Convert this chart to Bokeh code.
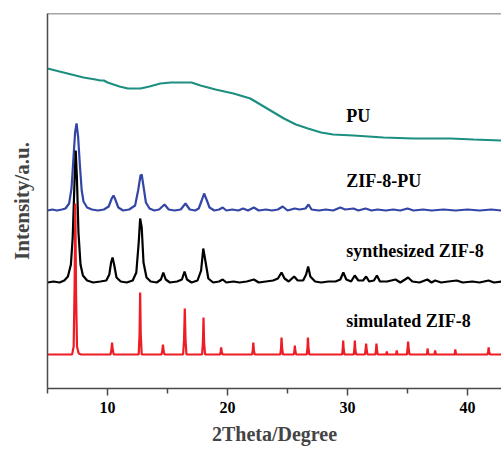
from bokeh.plotting import figure
from bokeh.models import Range1d, FixedTicker, Span, ColumnDataSource
from bokeh.core.properties import value
from bokeh.embed import file_html
from bokeh.resources import INLINE

# ---------------- data ----------------
# PU (teal) absolute values in arbitrary intensity units
PU_X = [5.0, 6.0, 7.0, 8.0, 9.0, 9.4, 9.7, 10.0, 11.0, 11.7, 12.3, 12.75, 13.5, 14.4,
        15.3, 16.3, 17.0, 17.75, 19.0, 20.5, 21.9, 23.3, 24.7, 25.7, 26.7, 27.8,
        28.8, 30.5, 33.0, 35.5, 38.6, 40.5, 42.8]
PU_Y = [320, 317, 314, 311, 309, 308, 308, 306, 302, 300, 300, 300, 302, 305,
        306, 306, 306, 303, 299, 295, 290, 280, 270, 264, 260, 256,
        254, 253, 251, 250, 250, 249, 248]

# ZIF-8-PU (blue) relative to its baseline
ZPU_OFFSET = 178
ZPU_X = [5.0, 5.4, 5.8, 6.2, 6.5, 6.8, 7.0, 7.15, 7.3, 7.42, 7.55, 7.7, 7.85, 8.0, 8.3, 8.7,
         9.2, 9.7, 10.1, 10.35, 10.5, 10.65, 10.9, 11.3, 11.8, 12.3, 12.55, 12.75, 12.85,
         13.0, 13.2, 13.5, 13.9, 14.3, 14.75, 15.1, 15.6, 16.1, 16.5, 16.85, 17.3, 17.6,
         17.85, 18.05, 18.25, 18.5, 18.9, 19.3, 19.6, 19.9, 20.4, 20.9, 21.3, 21.7, 22.2,
         22.6, 23.2, 23.7, 24.2, 24.6, 25.0, 25.6, 26.0, 26.5, 26.75, 27.0, 27.6, 28.2,
         28.8, 29.4, 29.8, 30.5, 30.9, 31.5, 32.0, 32.5, 33.2, 33.8, 34.4, 35.0, 35.5,
         36.3, 37.0, 38.0, 39.0, 40.0, 41.0, 42.0, 42.8]
ZPU_Y = [0, 1, 0, 1, 2, 7, 22, 50, 78, 87, 74, 45, 20, 9, 3, 1,
         0, 1, 4, 12, 15, 11, 3, 0, 1, 5, 20, 35, 36,
         24, 8, 2, 0, 1, 6, 1, 0, 1, 7, 1, 0, 2,
         10, 17, 11, 3, 0, 1, 3, 0, 1, 0, 2, 0, 3,
         0, 1, 0, 1, 4, 0, 2, 1, 2, 6, 1, 0, 1,
         0, 3, 1, 2, 0, 2, 0, 1, 0, 1, 0, 2, 0,
         1, 0, 1, 0, 1, 0, 1, 0]

# synthesized ZIF-8 (black) relative to its baseline
SYN_OFFSET = 106
SYN_X = [5.0, 5.5, 6.0, 6.4, 6.7, 6.95, 7.1, 7.25, 7.35, 7.45, 7.58, 7.75, 7.95, 8.3, 8.8,
         9.4, 9.9, 10.15, 10.3, 10.42, 10.55, 10.75, 11.1, 11.6, 12.1, 12.4, 12.6, 12.72,
         12.85, 13.0, 13.25, 13.6, 14.1, 14.45, 14.65, 14.85, 15.2, 15.8, 16.2, 16.42,
         16.62, 17.0, 17.5, 17.8, 17.98, 18.15, 18.4, 18.8, 19.3, 19.6, 19.9, 20.5, 21.0,
         21.6, 22.2, 22.6, 23.2, 23.8, 24.2, 24.5, 24.75, 25.1, 25.55, 25.85, 26.3, 26.55,
         26.72, 26.9, 27.3, 27.8, 28.4, 29.0, 29.4, 29.65, 29.9, 30.3, 30.6, 30.9, 31.3,
         31.55, 31.8, 32.2, 32.45, 32.7, 33.3, 34.0, 34.4, 35.05, 35.4, 36.0, 36.65, 37.0,
         37.3, 37.8, 38.4, 39.1, 39.6, 40.4, 41.0, 41.75, 42.2, 42.8]
SYN_Y = [0, 1, 0, 2, 6, 18, 45, 100, 132, 105, 50, 18, 7, 2, 0,
         1, 2, 8, 20, 25, 18, 5, 1, 0, 2, 10, 40, 64,
         55, 20, 5, 1, 0, 3, 10, 3, 0, 1, 3, 11,
         3, 0, 2, 12, 34, 22, 4, 0, 1, 3, 0, 1, 0,
         1, 3, 0, 1, 2, 4, 10, 4, 1, 6, 2, 2, 8,
         16, 6, 1, 0, 1, 1, 3, 10, 3, 1, 7, 2, 2,
         6, 1, 2, 7, 1, 1, 3, 0, 5, 1, 0, 3, 0,
         2, 0, 1, 2, 0, 1, 0, 2, 0, 1]

# simulated ZIF-8 (red) relative to its baseline
SIM_OFFSET = 34
SIM_X = [5.0, 7.05, 7.18, 7.26, 7.32, 7.38, 7.46, 7.6, 7.8,
         10.25, 10.33, 10.38, 10.43, 10.52,
         12.6, 12.67, 12.72, 12.77, 12.85,
         14.5, 14.57, 14.62, 14.67, 14.75,
         16.3, 16.38, 16.44, 16.5, 16.58,
         17.88, 17.95, 18.0, 18.05, 18.13,
         19.38, 19.43, 19.47, 19.52, 19.58,
         22.05, 22.1, 22.15, 22.2, 22.27,
         24.4, 24.46, 24.5, 24.55, 24.62,
         25.52, 25.57, 25.61, 25.66, 25.72,
         26.6, 26.66, 26.7, 26.75, 26.82,
         29.55, 29.6, 29.64, 29.68, 29.75,
         30.52, 30.57, 30.61, 30.65, 30.72,
         31.45, 31.5, 31.55, 31.6, 31.67,
         32.32, 32.37, 32.41, 32.46, 32.52,
         33.22, 33.27, 33.33,
         34.05, 34.1, 34.16,
         34.95, 35.0, 35.05, 35.1, 35.17,
         36.62, 36.67, 36.73,
         37.25, 37.3, 37.36,
         38.93, 38.98, 39.04,
         41.67, 41.72, 41.76, 41.8, 41.87,
         42.8]
SIM_Y = [0, 0, 8, 70, 151, 60, 8, 1, 0,
         0, 5, 12, 5, 0,
         0, 20, 62, 20, 0,
         0, 4, 10, 4, 0,
         0, 15, 46, 15, 0,
         0, 12, 37, 12, 0,
         0, 3, 7, 3, 0,
         0, 4, 12, 4, 0,
         0, 6, 17, 6, 0,
         0, 3, 9, 3, 0,
         0, 6, 17, 6, 0,
         0, 5, 14, 5, 0,
         0, 5, 14, 5, 0,
         0, 4, 11, 4, 0,
         0, 4, 11, 4, 0,
         0, 3, 0,
         0, 4, 0,
         0, 5, 13, 5, 0,
         0, 6, 0,
         0, 4, 0,
         0, 5, 0,
         0, 3, 7, 3, 0,
         0]

LABELS = ["PU", "ZIF-8-PU", "synthesized ZIF-8", "simulated ZIF-8"]
LABEL_X = [29.9, 29.9, 29.9, 29.9]
LABEL_Y = [273, 208, 138, 68]

X_TICKS = [10, 20, 30, 40]
X_MINOR = [5, 15, 25, 35]

# ---------------- figure ----------------
FONT = value("Liberation Serif")
AXIS_COLOR = "#4a4a4a"

p = figure(width=501, height=452, output_backend="svg", toolbar_location=None,
           x_range=Range1d(5, 42.83), y_range=Range1d(0, 375),
           min_border_left=47, min_border_right=0, min_border_top=13, min_border_bottom=64)
p.outline_line_color = None
p.grid.visible = False
p.background_fill_color = "white"
p.border_fill_color = "white"

p.line(PU_X, PU_Y, line_color="#1d8f80", line_width=2.2)
p.line(ZPU_X, [v + ZPU_OFFSET for v in ZPU_Y], line_color="#3346a6", line_width=2.2)
p.line(SYN_X, [v + SYN_OFFSET for v in SYN_Y], line_color="#000000", line_width=2.2)
p.line(SIM_X, [v + SIM_OFFSET for v in SIM_Y], line_color="#ee1c24", line_width=2.2)

src = ColumnDataSource(dict(x=LABEL_X, y=LABEL_Y, t=LABELS))
p.text(x="x", y="y", text="t", source=src, text_font=FONT, text_font_style="bold",
       text_font_size="18px", text_align="left", text_baseline="middle", text_color="black")

# top border line
p.add_layout(Span(location=375, dimension="width", line_color=AXIS_COLOR, line_width=1.5))

xa = p.xaxis[0]
xa.ticker = FixedTicker(ticks=X_TICKS, minor_ticks=X_MINOR)
xa.axis_label = "2Theta/Degree"
xa.axis_label_text_font = "Liberation Serif"
xa.axis_label_text_font_style = "bold"
xa.axis_label_text_font_size = "20px"
xa.axis_label_standoff = 7
xa.major_label_text_font = "Liberation Serif"
xa.major_label_text_font_style = "bold"
xa.major_label_text_font_size = "16px"
xa.major_label_text_color = "black"
xa.major_label_standoff = 6
xa.axis_line_color = AXIS_COLOR
xa.axis_line_width = 1.5
xa.major_tick_line_color = AXIS_COLOR
xa.minor_tick_line_color = AXIS_COLOR
xa.major_tick_line_width = 1.5
xa.minor_tick_line_width = 1.5
xa.major_tick_in = 0
xa.major_tick_out = 7
xa.minor_tick_in = 0
xa.minor_tick_out = 5

ya = p.yaxis[0]
ya.ticker = FixedTicker(ticks=[], minor_ticks=[])
ya.axis_label = "Intensity/a.u."
ya.axis_label_text_font = "Liberation Serif"
ya.axis_label_text_font_style = "bold"
ya.axis_label_text_font_size = "21px"
ya.axis_label_standoff = 14
ya.major_label_text_font_size = "0px"
ya.axis_line_color = AXIS_COLOR
ya.axis_line_width = 1.5
ya.major_tick_line_color = None
ya.minor_tick_line_color = None

open("out.html", "w").write(file_html(p, INLINE))
